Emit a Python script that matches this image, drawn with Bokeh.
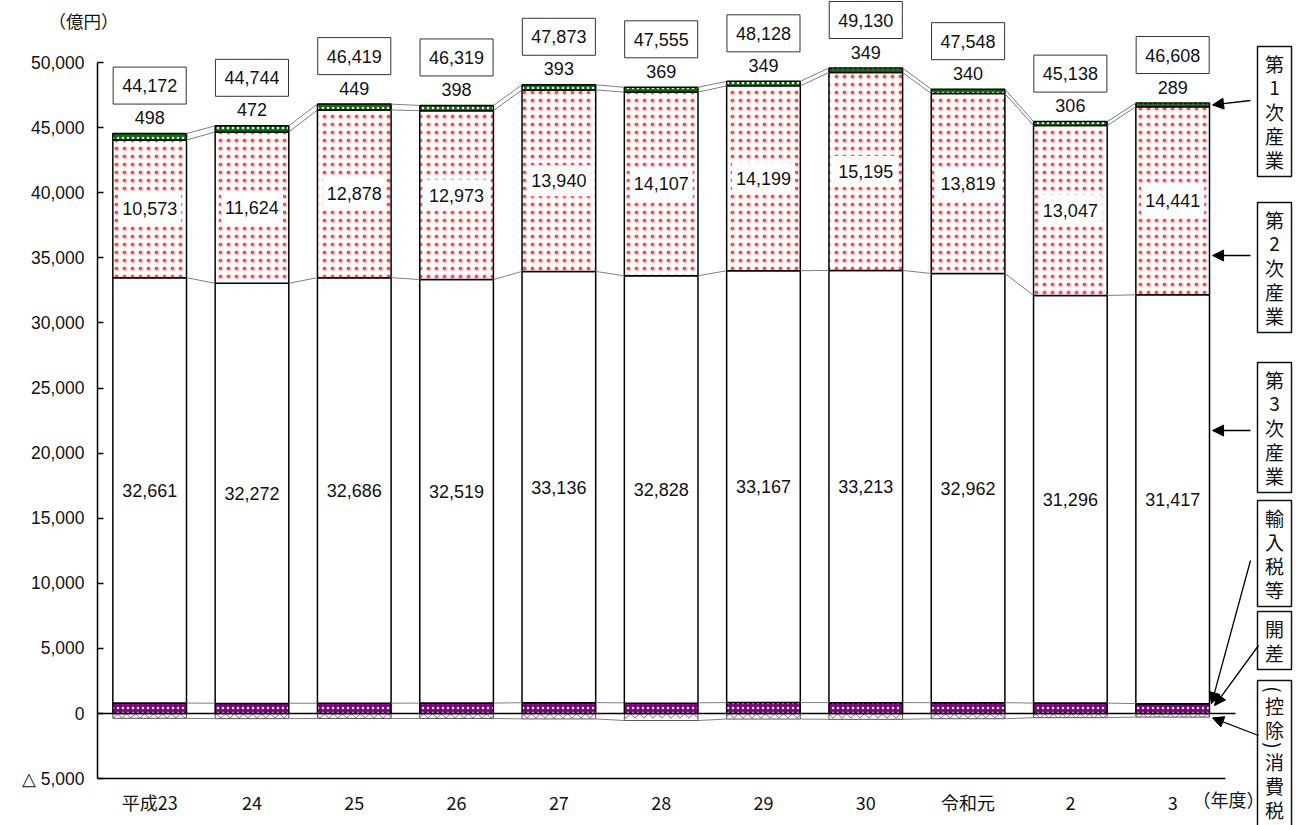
import math
from bokeh.plotting import figure
from bokeh.models import ColumnDataSource, FixedTicker, NumeralTickFormatter, Arrow, NormalHead
from bokeh.core.properties import value
from bokeh.embed import file_html
from bokeh.resources import INLINE

# ---------------- data ----------------
years = ["平成23", "24", "25", "26", "27", "28", "29", "30", "令和元", "2", "3"]
primary = [498, 472, 449, 398, 393, 369, 349, 349, 340, 306, 289]
secondary = [10573, 11624, 12878, 12973, 13940, 14107, 14199, 15195, 13819, 13047, 14441]
tertiary = [32661, 32272, 32686, 32519, 33136, 32828, 33167, 33213, 32962, 31296, 31417]
import_tax = [800, 790, 790, 800, 830, 820, 840, 840, 830, 800, 760]
discrepancy = [10, -20, 0, 10, -10, -30, 0, -20, 0, 10, -20]
consumption_tax = [-370, -394, -384, -381, -416, -539, -427, -447, -403, -321, -279]
totals = [44172, 44744, 46419, 46319, 47873, 47555, 48128, 49130, 47548, 45138, 46608]
y_ticks = list(range(-5000, 50001, 5000))
series_names = ["第1次産業", "第2次産業", "第3次産業", "輸入税等", "開差", "（控除）消費税"]

# ---------------- geometry helpers ----------------
PX_X = 102.3            # pixels per category
PX_Y = 65.1 / 5000.0    # pixels per unit
X0 = -0.51


def px2x(px):
    return X0 + (px - 97) / PX_X


def py2y(py):
    return (713 - py) / PX_Y


n = len(years)
xs = list(range(n))
W = 0.72

imp_top = list(import_tax)
gap_top = [a + b for a, b in zip(imp_top, discrepancy)]
ter_top = [a + b for a, b in zip(gap_top, tertiary)]
sec_top = [a + b for a, b in zip(ter_top, secondary)]
pri_top = [a + b for a, b in zip(sec_top, primary)]
ded_bot = list(consumption_tax)

JP = value("Noto Sans CJK JP")
NUM = value("Liberation Sans")

p = figure(width=1306, height=825,
           x_range=(px2x(0), px2x(1306)), y_range=(py2y(825), py2y(0)),
           output_backend="svg", toolbar_location=None, min_border=0)
p.outline_line_color = None
p.grid.visible = False
p.background_fill_color = "white"
p.border_fill_color = "white"

src = ColumnDataSource(dict(
    x=xs, imp=imp_top, gap=gap_top, ter=ter_top, sec=sec_top, pri=pri_top, ded=ded_bot,
    zero=[0] * n,
    ter_mid=[(a + b) / 2 for a, b in zip(gap_top, ter_top)],
    sec_mid=[(a + b) / 2 for a, b in zip(ter_top, sec_top)],
    t_ter=[f"{v:,}" for v in tertiary],
    t_sec=[f"{v:,}" for v in secondary],
    t_pri=[f"{v:,}" for v in primary],
    t_tot=[f"{v:,}" for v in totals],
))

# bars
p.vbar(x="x", width=W, bottom="ded", top="zero", source=src, fill_color="white",
       hatch_pattern="horizontal_wave", hatch_color="#a050a0", hatch_scale=9, hatch_weight=1,
       line_color="#555555", line_width=1)
p.vbar(x="x", width=W, bottom="zero", top="imp", source=src, fill_color="#800080",
       hatch_pattern="dot", hatch_color="white", hatch_scale=5, hatch_weight=2.6,
       line_color="black", line_width=1.5)
p.vbar(x="x", width=W, bottom="imp", top="gap", source=src, fill_color="white",
       line_color="black", line_width=1)
p.vbar(x="x", width=W, bottom="gap", top="ter", source=src, fill_color="white",
       line_color="black", line_width=1.5)
p.vbar(x="x", width=W, bottom="ter", top="sec", source=src, fill_color="white",
       hatch_pattern="dot", hatch_color="#ff5050", hatch_scale=8, hatch_weight=0.9,
       line_color="black", line_width=1.5)
p.vbar(x="x", width=W, bottom="sec", top="pri", source=src, fill_color="#0a6e0a",
       hatch_pattern="dot", hatch_color="white", hatch_scale=5, hatch_weight=2.5,
       line_color="black", line_width=1.5)

# connector lines between bars
for lev in [imp_top, ter_top, sec_top, pri_top, ded_bot]:
    p.segment(x0=[i + W / 2 for i in range(n - 1)], y0=lev[:-1],
              x1=[i + 1 - W / 2 for i in range(n - 1)], y1=lev[1:],
              line_color="#7f7f7f", line_width=1)

# zero line
p.segment(x0=[X0], y0=[0], x1=[px2x(1235)], y1=[0], line_color="black", line_width=1.5)

# value labels
p.text(x="x", y="ter_mid", text="t_ter", source=src, text_align="center", text_baseline="middle",
       text_font=NUM, text_font_size="18px", text_color="#111111")
p.text(x="x", y="sec_mid", text="t_sec", source=src, text_align="center", text_baseline="middle",
       text_font=NUM, text_font_size="18px", text_color="#111111",
       background_fill_color="white", padding=(4, 9))
p.text(x="x", y="pri", text="t_pri", source=src, text_align="center", text_baseline="middle",
       y_offset=-16, text_font=NUM, text_font_size="18px", text_color="#111111")
p.text(x="x", y="pri", text="t_tot", source=src, text_align="center", text_baseline="middle",
       y_offset=-48, text_font=NUM, text_font_size="18px", text_color="#111111",
       background_fill_color="white", border_line_color="#333333", border_line_width=1,
       padding=(9, 12))

# axes
yax = p.yaxis[0]
yax.fixed_location = X0
yax.bounds = (-5000, 50000)
yax.ticker = FixedTicker(ticks=y_ticks)
yax.formatter = NumeralTickFormatter(format="0,0")
yax.major_label_overrides = {-5000: "△ 5,000"}
yax.major_tick_in = 6
yax.major_tick_out = 0
yax.minor_tick_in = 0
yax.minor_tick_out = 0
yax.major_label_standoff = 13
yax.major_label_text_font = "Liberation Sans"
yax.major_label_text_font_size = "17.5px"
yax.major_label_text_color = "#111111"
yax.axis_line_width = 1.5
yax.major_tick_line_width = 1.5

xax = p.xaxis[0]
xax.fixed_location = -5000
xax.bounds = (X0, px2x(1225))
xax.ticker = FixedTicker(ticks=xs)
xax.major_label_overrides = {i: y for i, y in enumerate(years)}
xax.major_tick_in = 0
xax.major_tick_out = 0
xax.minor_tick_in = 0
xax.minor_tick_out = 0
xax.major_label_standoff = 10
xax.major_label_text_font = "Noto Sans CJK JP"
xax.major_label_text_font_size = "18px"
xax.major_label_text_color = "#111111"
xax.axis_line_width = 1.5

# unit labels
p.text(x=[px2x(48)], y=[py2y(20)], text=["（億円）"], text_align="left", text_baseline="middle",
       text_font=JP, text_font_size="17.5px", text_color="#111111")
p.text(x=[px2x(1192)], y=[py2y(798)], text=["（年度）"], text_align="left", text_baseline="middle",
       text_font=JP, text_font_size="18px", text_color="#111111")

# series boxes on the right (vertical text, one character per line)
box_tops = [46, 202, 362, 500, 611, 680]
PAREN = "（）"
bl, br, bt, bb = [], [], [], []
cx, cy, ct, ca = [], [], [], []
for name, top in zip(series_names, box_tops):
    halves = [4 if ch in PAREN else 12 for ch in name]
    c = top + 5 + halves[0]
    for k, ch in enumerate(name):
        if k > 0:
            c += halves[k - 1] + halves[k]
        cx.append(px2x(1274))
        cy.append(py2y(c))
        if ch in PAREN:
            ct.append("(" if ch == "（" else ")")
            ca.append(-math.pi / 2)
        else:
            ct.append(ch)
            ca.append(0.0)
    bottom = c + halves[-1] + 5
    bl.append(px2x(1257))
    br.append(px2x(1291))
    bt.append(py2y(top))
    bb.append(py2y(bottom))
p.quad(left=bl, right=br, top=bt, bottom=bb, fill_color="white",
       line_color="#111111", line_width=1.5)
p.text(x=cx, y=cy, text=ct, angle=ca, text_align="center", text_baseline="middle", text_font=JP,
       text_font_size="19px", text_color="#111111")

# arrows
last = n - 1
right = last + W / 2
arrows = [
    ((1250, 100), (right + 0.03, (sec_top[last] + pri_top[last]) / 2)),
    ((1250, 255), (right + 0.03, py2y(255))),
    ((1250, 430), (right + 0.03, py2y(430))),
    ((1250, 560), (right + 0.02, imp_top[last])),
    ((1258, 645), (right + 0.05, imp_top[last] * 0.8)),
    ((1258, 735), (right + 0.03, ded_bot[last] - 60)),
]
for (sx, sy), (ex, ey) in arrows:
    p.add_layout(Arrow(end=NormalHead(size=11, fill_color="black", line_color="black"),
                       x_start=px2x(sx), y_start=py2y(sy), x_end=ex, y_end=ey,
                       line_color="black", line_width=1.3))

open("out.html", "w").write(file_html(p, INLINE))
